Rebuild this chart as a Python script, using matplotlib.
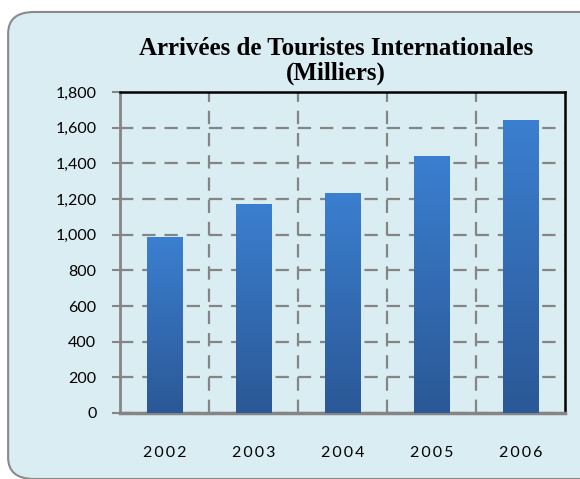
import matplotlib.pyplot as plt
import numpy as np
from matplotlib.patches import FancyBboxPatch
from matplotlib.ticker import FuncFormatter, FixedLocator
from matplotlib.colors import LinearSegmentedColormap

years = ['2002', '2003', '2004', '2005', '2006']
arrivals = [985, 1170, 1235, 1440, 1645]
y_ticks = [0, 200, 400, 600, 800, 1000, 1200, 1400, 1600, 1800]

BG = '#daedf3'
GRID = '#858585'

fig = plt.figure(figsize=(5.8, 4.79), dpi=100)
fig.patch.set_facecolor('white')

# rounded frame behind the chart
frame = FancyBboxPatch((0.014, 0.0), 1.05, 0.975,
                       boxstyle='round,pad=0,rounding_size=0.045',
                       transform=fig.transFigure, facecolor=BG,
                       edgecolor='#8a8a8a', linewidth=1.5, zorder=-5)
fig.patches.append(frame)

ax = fig.add_axes([120 / 580, 1 - 413 / 479, 445 / 580, 321 / 479])
ax.set_facecolor(BG)
ax.set_zorder(2)

x = np.arange(len(years))
bars = ax.bar(x, arrivals, width=0.4, color='none', edgecolor='none', zorder=3)

# vertical gradient inside each bar
grad = np.linspace(0, 1, 256).reshape(-1, 1)
cmap = LinearSegmentedColormap.from_list('bar', ['#2b5896', '#3b7fd0'])
for bar in bars:
    x0, w, h = bar.get_x(), bar.get_width(), bar.get_height()
    im = ax.imshow(grad, extent=(x0, x0 + w, 0, h), origin='lower',
                   cmap=cmap, aspect='auto', zorder=3)
    im.set_clip_path(bar)

ax.set_xlim(-0.5, len(years) - 0.5)
ax.set_ylim(0, 1800)
ax.yaxis.set_major_locator(FixedLocator(y_ticks))
ax.yaxis.set_major_formatter(FuncFormatter(lambda v, p: f'{int(v):,}'))
ax.set_xticks(x)
ax.set_xticklabels(['\u2009'.join(y) for y in years])
ax.xaxis.set_minor_locator(FixedLocator(x[:-1] + 0.5))

ax.grid(axis='y', which='major', color=GRID, linestyle=(0, (6, 4)), linewidth=1.6, zorder=1)
ax.grid(axis='x', which='minor', color=GRID, linestyle=(0, (6, 4)), linewidth=1.6, zorder=1)
ax.set_axisbelow(True)

ax.tick_params(axis='y', length=6, width=1.5, color=GRID, pad=11, labelsize=11.5)
ax.tick_params(axis='x', which='major', length=0, pad=24, labelsize=11.5)
ax.tick_params(axis='x', which='minor', length=0)
for lbl in ax.get_xticklabels() + ax.get_yticklabels():
    lbl.set_fontfamily('Lato')

ax.spines['left'].set_color(GRID)
ax.spines['left'].set_linewidth(2)
ax.spines['bottom'].set_color(GRID)
ax.spines['bottom'].set_linewidth(2.5)
ax.spines['top'].set_color('black')
ax.spines['top'].set_linewidth(1.8)
ax.spines['right'].set_color('black')
ax.spines['right'].set_linewidth(1.8)

fig.text(336 / 580, 1 - 61 / 479, 'Arrivées de Touristes Internationales\n(Milliers)',
         ha='center', va='center', fontsize=18, fontweight='bold',
         family='Liberation Serif', linespacing=1.05)

fig.savefig('out.png', dpi=100, facecolor=fig.get_facecolor())
